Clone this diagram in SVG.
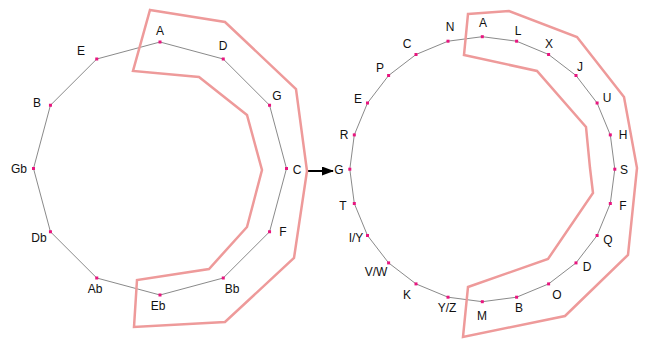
<svg xmlns="http://www.w3.org/2000/svg" width="645" height="340" viewBox="0 0 645 340">
<style>
text{font-family:"Liberation Sans",Arial,sans-serif;font-size:12px;fill:#111;text-anchor:middle}
.ring{fill:none;stroke:#8a8a8a;stroke-width:1}
.grp{fill:none;stroke:#ee9a9a;stroke-width:2.5;stroke-linejoin:miter}
.dot{fill:#e8157f}
.arr{stroke:#000;stroke-width:2;fill:none}
</style>
<defs>
<marker id="ah" markerWidth="12" markerHeight="9" refX="11" refY="4.5" orient="auto" markerUnits="userSpaceOnUse">
<polygon points="0,0 12,4.5 0,9" fill="#000"/>
</marker>
</defs>
<rect width="645" height="340" fill="#fff"/>
<g id="connectors">
<polygon class="ring" points="160,42 223.25,59 269.55,105.25 286.5,168.5 269.55,231.75 223.25,278 160,295 96.75,278 50.45,231.75 33.5,168.5 50.45,105.25 96.75,59"/>
<polygon class="ring" points="482.3,36.7 516.6,41.2 548.6,54.5 576,75.5 597.1,103 610.3,134.9 614.8,169.2 610.3,203.5 597.1,235.5 576,262.9 548.6,283.9 516.6,297.2 482.3,301.7 448,297.2 416,283.9 388.6,262.9 367.5,235.5 354.3,203.5 349.8,169.2 354.3,134.9 367.5,103 388.6,75.5 416,54.5 448,41.2"/>
<line class="arr" x1="306" y1="171" x2="333" y2="171" marker-end="url(#ah)"/>
</g>
<g id="groups">
<polygon class="grp" points="150,10 225,22 296,89 307,171 294,258 225,322 134,327 137,280 209,269 247,227 262,170 247,115 199,77 133,71"/>
<polygon class="grp" points="468,14 509,11 577,37 624,97 637,168 628,255 565,316 463,337 468,287 548,259 593,193 590,168 586,127 537,71 464,55"/>
</g>
<g id="left">
<g id="L-A"><rect class="dot" x="158.5" y="40.5" width="3" height="3"/><text x="160" y="35.3">A</text></g>
<g id="L-D"><rect class="dot" x="221.75" y="57.5" width="3" height="3"/><text x="223" y="50.3">D</text></g>
<g id="L-G"><rect class="dot" x="268.05" y="103.75" width="3" height="3"/><text x="277" y="100.3">G</text></g>
<g id="L-C"><rect class="dot" x="285" y="167" width="3" height="3"/><text x="297" y="174.3">C</text></g>
<g id="L-F"><rect class="dot" x="268.05" y="230.25" width="3" height="3"/><text x="283" y="236.3">F</text></g>
<g id="L-Bb"><rect class="dot" x="221.75" y="276.5" width="3" height="3"/><text x="232" y="293.3">Bb</text></g>
<g id="L-Eb"><rect class="dot" x="158.5" y="293.5" width="3" height="3"/><text x="158" y="310.3">Eb</text></g>
<g id="L-Ab"><rect class="dot" x="95.25" y="276.5" width="3" height="3"/><text x="95" y="293.3">Ab</text></g>
<g id="L-Db"><rect class="dot" x="48.95" y="230.25" width="3" height="3"/><text x="39" y="242.3">Db</text></g>
<g id="L-Gb"><rect class="dot" x="32" y="167" width="3" height="3"/><text x="19" y="173.3">Gb</text></g>
<g id="L-B"><rect class="dot" x="48.95" y="103.75" width="3" height="3"/><text x="37" y="107.3">B</text></g>
<g id="L-E"><rect class="dot" x="95.25" y="57.5" width="3" height="3"/><text x="81" y="55.3">E</text></g>
</g>
<g id="right">
<g id="R-A"><rect class="dot" x="480.8" y="35.2" width="3" height="3"/><text x="483" y="27.3">A</text></g>
<g id="R-L"><rect class="dot" x="515.1" y="39.7" width="3" height="3"/><text x="518" y="35.3">L</text></g>
<g id="R-X"><rect class="dot" x="547.1" y="53" width="3" height="3"/><text x="549" y="48.3">X</text></g>
<g id="R-J"><rect class="dot" x="574.5" y="74" width="3" height="3"/><text x="580" y="71.3">J</text></g>
<g id="R-U"><rect class="dot" x="595.6" y="101.5" width="3" height="3"/><text x="607" y="102.3">U</text></g>
<g id="R-H"><rect class="dot" x="608.8" y="133.4" width="3" height="3"/><text x="623" y="139.3">H</text></g>
<g id="R-S"><rect class="dot" x="613.3" y="167.7" width="3" height="3"/><text x="624" y="174.3">S</text></g>
<g id="R-F"><rect class="dot" x="608.8" y="202" width="3" height="3"/><text x="623" y="210.3">F</text></g>
<g id="R-Q"><rect class="dot" x="595.6" y="234" width="3" height="3"/><text x="608" y="244.3">Q</text></g>
<g id="R-D"><rect class="dot" x="574.5" y="261.4" width="3" height="3"/><text x="587" y="271.3">D</text></g>
<g id="R-O"><rect class="dot" x="547.1" y="282.4" width="3" height="3"/><text x="557" y="299.3">O</text></g>
<g id="R-B"><rect class="dot" x="515.1" y="295.7" width="3" height="3"/><text x="519" y="312.3">B</text></g>
<g id="R-M"><rect class="dot" x="480.8" y="300.2" width="3" height="3"/><text x="482" y="320.3">M</text></g>
<g id="R-YZ"><rect class="dot" x="446.5" y="295.7" width="3" height="3"/><text x="447" y="312.3">Y/Z</text></g>
<g id="R-K"><rect class="dot" x="414.5" y="282.4" width="3" height="3"/><text x="407" y="299.3">K</text></g>
<g id="R-VW"><rect class="dot" x="387.1" y="261.4" width="3" height="3"/><text x="376" y="276.3">V/W</text></g>
<g id="R-IY"><rect class="dot" x="366" y="234" width="3" height="3"/><text x="356" y="242.3">I/Y</text></g>
<g id="R-T"><rect class="dot" x="352.8" y="202" width="3" height="3"/><text x="343" y="210.3">T</text></g>
<g id="R-G"><rect class="dot" x="348.3" y="167.7" width="3" height="3"/><text x="339" y="174.3">G</text></g>
<g id="R-R"><rect class="dot" x="352.8" y="133.4" width="3" height="3"/><text x="344" y="139.3">R</text></g>
<g id="R-E"><rect class="dot" x="366" y="101.5" width="3" height="3"/><text x="358" y="103.3">E</text></g>
<g id="R-P"><rect class="dot" x="387.1" y="74" width="3" height="3"/><text x="380" y="72.3">P</text></g>
<g id="R-C"><rect class="dot" x="414.5" y="53" width="3" height="3"/><text x="407" y="48.3">C</text></g>
<g id="R-N"><rect class="dot" x="446.5" y="39.7" width="3" height="3"/><text x="450" y="31.3">N</text></g>
</g>
</svg>
